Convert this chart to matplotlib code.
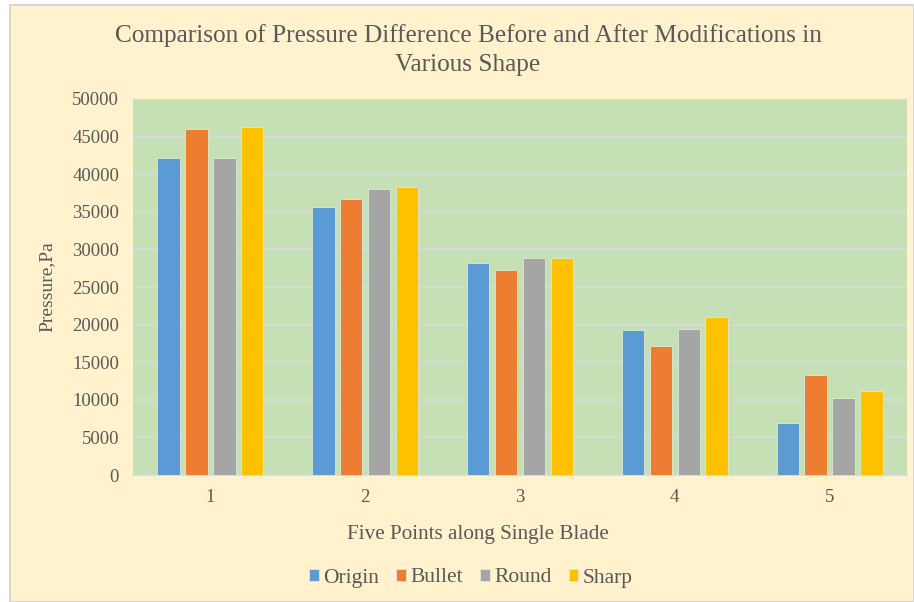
import numpy as np
import matplotlib
matplotlib.use("Agg")
import matplotlib.pyplot as plt
from matplotlib.patches import Rectangle

# data
points = ["1", "2", "3", "4", "5"]
origin = [42100, 35600, 28150, 19300, 6950]
bullet = [46000, 36650, 27250, 17200, 13300]
round_ = [42100, 38050, 28800, 19450, 10300]
sharp = [46300, 38250, 28850, 21050, 11150]
series_names = ["Origin", "Bullet", "Round", "Sharp"]
colors = ["#5b9bd5", "#ed7d31", "#a5a5a5", "#ffc000"]

plt.rcParams["font.family"] = ["Liberation Serif", "DejaVu Serif"]
text_col = "#595959"

fig = plt.figure(figsize=(9.14, 6.02), dpi=100)
fig.patch.set_facecolor("white")
# chart area box (cream with grey outline)
fig.patches.append(Rectangle((10 / 914, 0), 904 / 914, 597 / 602, transform=fig.transFigure,
                             facecolor="#fff2cc", edgecolor="#d0d0d0", linewidth=1.2, zorder=-1))

ax = fig.add_axes([133 / 914, 1 - 475 / 602, 774 / 914, 376 / 602])
ax.set_facecolor("#c5e0b4")

x = np.arange(len(points))
slot = 0.18
width = 0.145
all_series = [origin, bullet, round_, sharp]
for i, (vals, name, c) in enumerate(zip(all_series, series_names, colors)):
    ax.bar(x + (i - 1.5) * slot, vals, width, color=c, label=name,
           edgecolor="#dfe9d8", linewidth=0.6, zorder=3)

ax.set_xlim(-0.5, 4.5)
ax.set_ylim(0, 50000)
ax.set_yticks(np.arange(0, 50001, 5000))
ax.set_xticks(x)
ax.set_xticklabels(points)
ax.grid(axis="y", color="#d9d9d9", linewidth=1.3, zorder=0)
for s in ["top", "right", "left"]:
    ax.spines[s].set_visible(False)
ax.spines["bottom"].set_color("#d9d9d9")
ax.spines["bottom"].set_linewidth(1.3)
ax.tick_params(axis="both", length=0, labelsize=13.5, colors=text_col, pad=10)

ax.set_ylabel("Pressure,Pa", fontsize=14, color=text_col, labelpad=12)

fig.text(478 / 914, 1 - 535 / 602, "Five Points along Single Blade",
         ha="center", va="center", fontsize=15.2, color=text_col)

fig.text(468 / 914, 1 - 50 / 602, "Comparison of Pressure Difference Before and After Modifications in\nVarious Shape",
         ha="center", va="center", fontsize=18.2, color=text_col, linespacing=1.38)

fig.legend(*ax.get_legend_handles_labels(), loc="center", bbox_to_anchor=(471 / 914, 1 - 578 / 602),
           ncol=4, frameon=False, fontsize=15.5, labelcolor=text_col, handlelength=0.45,
           handleheight=0.45, handletextpad=0.2, columnspacing=0.8)

fig.savefig("out.png", dpi=100, facecolor=fig.get_facecolor())
